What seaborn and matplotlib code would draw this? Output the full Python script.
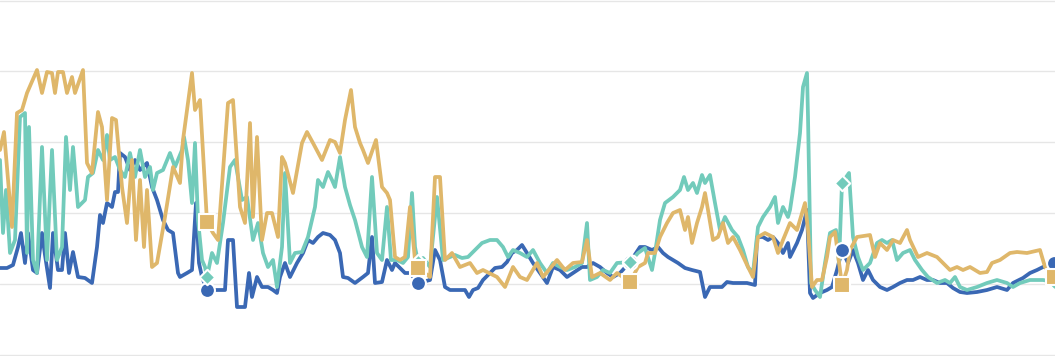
import matplotlib
matplotlib.use("Agg")
import matplotlib.pyplot as plt
import numpy as np
import pandas as pd
import seaborn as sns

# ---------------- data (time index, value) ----------------
gold_t = [0, 4, 12, 17, 22, 27, 37, 42, 47, 52,
          55, 58, 63, 67, 72, 75, 83, 87, 92, 95,
          98, 102, 107, 112, 116, 122, 127, 132, 136, 140,
          144, 147, 152, 157, 165, 173, 180, 183, 192, 195,
          200, 207, 213, 218, 228, 233, 240, 245, 250, 253,
          257, 262, 267, 272, 278, 282, 285, 293, 302, 307,
          313, 322, 330, 335, 340, 345, 351, 355, 360, 363,
          368, 376, 382, 387, 390, 395, 400, 405, 410, 415,
          418, 430, 435, 440, 445, 452, 460, 470, 477, 483,
          497, 505, 513, 520, 527, 537, 543, 557, 565, 573,
          582, 587, 592, 600, 610, 617, 630, 638, 645, 648,
          655, 660, 667, 673, 680, 685, 688, 692, 697, 702,
          705, 708, 713, 718, 723, 728, 733, 740, 748, 753,
          758, 765, 773, 778, 783, 790, 797, 805, 808, 812,
          817, 822, 827, 830, 835, 842, 847, 850, 857, 870,
          875, 880, 887, 893, 900, 907, 910, 918, 927, 937,
          943, 950, 957, 963, 970, 980, 987, 992, 1000, 1010,
          1017, 1027, 1040, 1045, 1054]
gold_v = [205, 223, 128, 242, 245, 262, 285, 262, 283, 282,
          262, 283, 283, 262, 278, 262, 285, 192, 182, 212,
          243, 228, 155, 237, 235, 168, 132, 195, 115, 175,
          108, 165, 88, 92, 138, 188, 172, 215, 282, 245,
          255, 133, 122, 115, 252, 255, 148, 132, 232, 138,
          218, 115, 142, 142, 118, 198, 192, 162, 212, 223,
          212, 195, 215, 213, 202, 235, 265, 228, 212, 205,
          192, 215, 168, 162, 155, 98, 95, 98, 148, 95,
          87, 78, 178, 178, 95, 102, 88, 92, 82, 85,
          78, 68, 88, 78, 75, 92, 78, 95, 85, 92,
          93, 115, 78, 82, 75, 82, 73, 88, 92, 102,
          102, 118, 132, 142, 145, 125, 138, 112, 132, 148,
          162, 145, 115, 118, 132, 112, 118, 105, 88, 78,
          118, 122, 118, 102, 115, 132, 125, 152, 125, 68,
          75, 75, 98, 118, 123, 70, 85, 105, 118, 120,
          98, 112, 105, 115, 112, 125, 115, 98, 102, 98,
          92, 85, 88, 85, 88, 82, 83, 92, 95, 102,
          103, 102, 105, 88, 78]

teal_t = [0, 3, 6, 10, 15, 20, 25, 27, 29, 33,
          37, 42, 47, 52, 57, 62, 66, 70, 73, 78,
          85, 88, 93, 98, 103, 107, 110, 115, 120, 125,
          130, 135, 140, 145, 150, 153, 157, 163, 170, 175,
          182, 184, 188, 192, 195, 198, 202, 205, 207, 212,
          217, 223, 230, 235, 242, 247, 253, 258, 263, 268,
          273, 277, 282, 285, 290, 295, 302, 308, 315, 318,
          323, 328, 332, 335, 340, 345, 350, 355, 362, 367,
          372, 377, 382, 387, 391, 397, 403, 408, 412, 415,
          418, 423, 430, 437, 443, 450, 455, 462, 468, 475,
          482, 490, 497, 503, 508, 513, 520, 527, 533, 540,
          547, 553, 560, 567, 575, 582, 587, 590, 597, 603,
          610, 617, 630, 638, 645, 652, 655, 660, 665, 673,
          680, 684, 688, 693, 697, 702, 705, 710, 715, 720,
          725, 732, 738, 743, 748, 753, 758, 763, 770, 775,
          778, 783, 788, 790, 795, 800, 803, 807, 808, 811,
          815, 820, 825, 830, 836, 839, 842, 849, 853, 858,
          863, 870, 877, 882, 887, 892, 897, 903, 910, 915,
          922, 928, 937, 945, 950, 955, 960, 967, 977, 987,
          997, 1007, 1013, 1020, 1030, 1043, 1054]
teal_v = [195, 122, 165, 102, 115, 238, 242, 102, 228, 95,
          82, 208, 95, 205, 95, 108, 218, 165, 208, 148,
          155, 178, 182, 205, 195, 220, 195, 198, 185, 178,
          202, 178, 205, 178, 188, 165, 182, 185, 202, 188,
          205, 218, 195, 152, 212, 135, 95, 88, 78, 102,
          92, 132, 188, 195, 155, 158, 115, 132, 102, 88,
          95, 68, 108, 182, 92, 102, 103, 118, 148, 175,
          168, 183, 175, 168, 198, 168, 150, 135, 108, 98,
          178, 102, 95, 148, 95, 95, 92, 98, 162, 108,
          93, 97, 88, 158, 95, 98, 100, 97, 98, 105,
          112, 115, 115, 108, 98, 105, 102, 98, 105, 92,
          82, 92, 88, 85, 88, 92, 132, 75, 78, 85,
          82, 92, 93, 102, 107, 85, 102, 135, 152, 158,
          165, 178, 165, 172, 162, 180, 172, 180, 152, 125,
          138, 125, 118, 105, 88, 82, 128, 138, 148, 158,
          132, 148, 138, 145, 178, 222, 268, 282, 238, 72,
          65, 58, 92, 122, 125, 92, 172, 182, 118, 98,
          85, 92, 112, 115, 112, 115, 95, 102, 105, 95,
          85, 78, 72, 75, 72, 78, 68, 65, 68, 72,
          75, 72, 68, 72, 75, 75, 73]

blue_t = [0, 7, 13, 18, 21, 25, 28, 33, 37, 42,
          45, 50, 53, 58, 62, 65, 69, 73, 78, 85,
          92, 97, 100, 103, 107, 112, 115, 118, 120, 125,
          130, 135, 140, 147, 152, 157, 163, 168, 173, 178,
          180, 187, 192, 196, 199, 202, 207, 213, 220, 225,
          228, 233, 237, 245, 249, 252, 257, 262, 268, 273,
          277, 280, 285, 290, 297, 303, 308, 313, 318, 323,
          330, 335, 340, 343, 348, 355, 363, 368, 372, 375,
          382, 387, 392, 395, 400, 405, 410, 418, 430, 435,
          440, 445, 450, 460, 465, 469, 473, 478, 483, 490,
          495, 502, 507, 512, 517, 522, 527, 533, 540, 547,
          553, 560, 567, 573, 582, 587, 593, 600, 607, 613,
          620, 630, 640, 645, 652, 658, 663, 668, 673, 678,
          685, 692, 700, 705, 710, 717, 722, 727, 733, 747,
          755, 757, 763, 768, 773, 778, 783, 788, 790, 797,
          802, 807, 810, 813, 820, 827, 832, 837, 842, 848,
          853, 858, 863, 868, 873, 880, 887, 893, 900, 907,
          913, 920, 927, 933, 940, 947, 953, 960, 967, 977,
          987, 997, 1007, 1013, 1023, 1030, 1037, 1043, 1054]
blue_v = [87, 87, 90, 108, 122, 92, 122, 85, 82, 122,
          100, 67, 122, 85, 85, 122, 82, 103, 78, 77,
          72, 108, 140, 132, 152, 148, 163, 163, 202, 198,
          185, 195, 185, 192, 168, 155, 135, 125, 122, 82,
          78, 82, 85, 152, 92, 78, 65, 65, 65, 65,
          115, 115, 48, 48, 82, 58, 78, 68, 68, 65,
          62, 78, 92, 78, 92, 102, 115, 112, 118, 122,
          120, 115, 102, 78, 77, 72, 78, 82, 118, 72,
          73, 95, 85, 92, 87, 82, 82, 72, 75, 105,
          95, 68, 65, 65, 65, 58, 65, 67, 75, 82,
          87, 88, 93, 102, 105, 110, 102, 92, 82, 72,
          88, 85, 78, 82, 88, 88, 92, 88, 82, 78,
          82, 93, 108, 108, 105, 108, 102, 98, 95, 92,
          87, 85, 83, 58, 68, 68, 68, 73, 72, 72,
          70, 118, 118, 115, 118, 112, 102, 112, 98, 112,
          125, 145, 62, 57, 62, 65, 68, 85, 105, 92,
          105, 92, 75, 85, 75, 68, 65, 68, 72, 75,
          75, 78, 75, 75, 72, 72, 67, 63, 62, 63,
          65, 68, 65, 72, 77, 82, 85, 88, 92]

marker_t = [207, 418, 630, 842, 1054]
series_names = ["Blue", "Teal", "Gold"]

# ---------------- build frame ----------------
df = pd.concat([
    pd.DataFrame({"t": blue_t, "value": blue_v, "series": "Blue"}),
    pd.DataFrame({"t": teal_t, "value": teal_v, "series": "Teal"}),
    pd.DataFrame({"t": gold_t, "value": gold_v, "series": "Gold"}),
], ignore_index=True)

palette = {"Blue": "#3a68b4", "Teal": "#72cbbb", "Gold": "#dfb76a"}
markers = {"Blue": ("o", 115), "Teal": ("D", 62), "Gold": ("s", 145)}

sns.set_theme(style="white")
fig = plt.figure(figsize=(10.55, 3.56), dpi=100)
ax = fig.add_axes([0, 0, 1, 1])

ax.grid(axis="y", color="#e6e6e6", linewidth=1.0, zorder=0)
ax.set_axisbelow(True)

sns.lineplot(data=df, x="t", y="value", hue="series", hue_order=series_names,
             palette=palette, estimator=None, sort=False, linewidth=2.7,
             legend=False, ax=ax, zorder=2)

mk = df[df["t"].isin(marker_t)]
for i, name in enumerate(series_names):
    m, s = markers[name]
    sns.scatterplot(data=mk[mk["series"] == name], x="t", y="value",
                    color=palette[name], marker=m, s=s, edgecolor="white",
                    linewidth=1.5, legend=False, ax=ax, zorder=5 + i)

ax.set_xlim(0, 1055)
ax.set_ylim(-1, 355)
ax.set_yticks([0, 71, 142, 213, 284, 354])
ax.set_xticks([])
ax.set_xlabel("")
ax.set_ylabel("")
ax.tick_params(left=False, bottom=False, labelleft=False, labelbottom=False)
for sp in ax.spines.values():
    sp.set_visible(False)

fig.savefig("out.png", dpi=100)
